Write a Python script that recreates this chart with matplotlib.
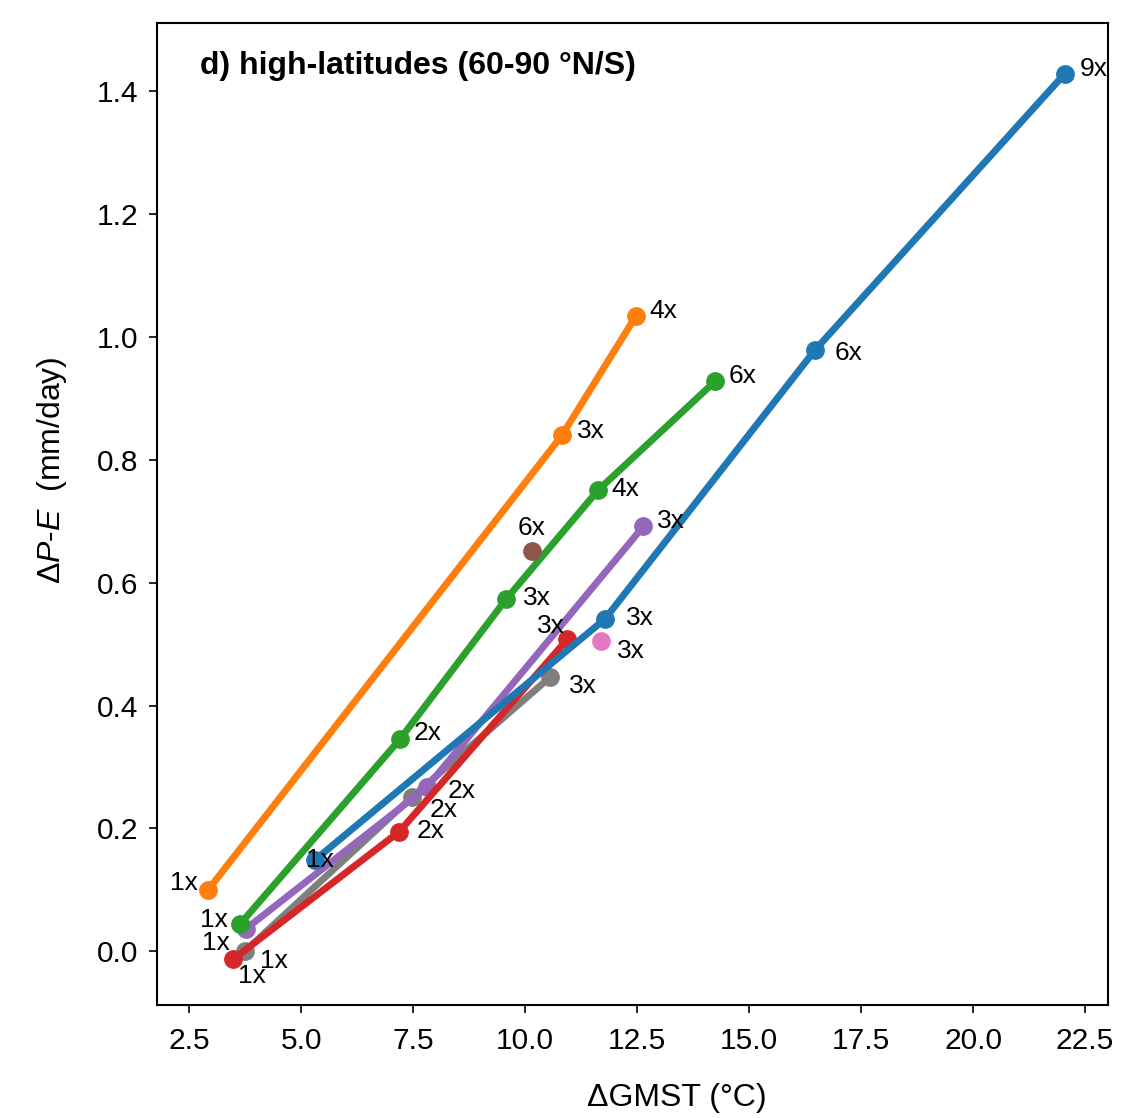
import matplotlib
matplotlib.use("Agg")
import matplotlib.pyplot as plt

plt.rcParams['font.family'] = ['Liberation Sans', 'DejaVu Sans']
plt.rcParams['mathtext.fontset'] = 'custom'
plt.rcParams['mathtext.rm'] = 'Liberation Sans'
plt.rcParams['mathtext.it'] = 'Liberation Sans:italic'

# ---- data (ΔGMST °C, ΔP-E mm/day, CO2 multiple labels) ----
blue_x = [5.31, 11.78, 16.47, 22.05]
blue_y = [0.149, 0.541, 0.979, 1.429]
blue_lab = ["1x", "3x", "6x", "9x"]

orange_x = [2.92, 10.82, 12.47]
orange_y = [0.100, 0.840, 1.034]
orange_lab = ["1x", "3x", "4x"]

green_x = [3.63, 7.20, 9.57, 11.63, 14.24]
green_y = [0.044, 0.345, 0.573, 0.751, 0.928]
green_lab = ["1x", "2x", "3x", "4x", "6x"]

red_x = [3.48, 7.19, 10.94]
red_y = [-0.013, 0.195, 0.508]
red_lab = ["1x", "2x", "3x"]

purple_x = [3.77, 7.80, 12.64]
purple_y = [0.037, 0.267, 0.692]
purple_lab = ["1x", "2x", "3x"]

brown_x = [10.16]
brown_y = [0.652]
brown_lab = ["6x"]

pink_x = [11.70]
pink_y = [0.505]
pink_lab = ["3x"]

gray_x = [3.74, 7.47, 10.55]
gray_y = [0.000, 0.251, 0.446]
gray_lab = ["1x", "2x", "3x"]

# ---- label offsets (pixels: right, up) for text baseline-left ----
blue_off = [(-9, -7), (21, -6), (20, -10), (15, -2)]
orange_off = [(-38, 0), (15, -3), (14, -2)]
green_off = [(-40, -3), (14, -1), (17, -6), (13, -6), (14, -2)]
red_off = [(5, -24), (17, -6), (-30, 6)]
purple_off = [(-44, -21), (21, -11), (14, -2)]
brown_off = [(-15, 16)]
pink_off = [(16, -17)]
gray_off = [(15, -17), (18, -20), (19, -16)]

series = [
    (gray_x, gray_y, gray_lab, gray_off, '#7f7f7f', 2),
    (purple_x, purple_y, purple_lab, purple_off, '#9467bd', 3),
    (red_x, red_y, red_lab, red_off, '#d62728', 4),
    (green_x, green_y, green_lab, green_off, '#2ca02c', 5),
    (blue_x, blue_y, blue_lab, blue_off, '#1f77b4', 6),
    (orange_x, orange_y, orange_lab, orange_off, '#ff7f0e', 7),
    (brown_x, brown_y, brown_lab, brown_off, '#8c564b', 8),
    (pink_x, pink_y, pink_lab, pink_off, '#e377c2', 9),
]

fig = plt.figure(figsize=(11.23, 11.18), dpi=100)
ax = fig.add_axes([0.1395, 0.1011, 0.8474, 0.8786])

for xs, ys, labs, offs, col, z in series:
    ax.plot(xs, ys, '-o', color=col, lw=5, ms=12.5, zorder=z)
    for x, y, l, (dx, dy) in zip(xs, ys, labs, offs):
        ax.annotate(l, (x, y), xytext=(dx, dy), textcoords='offset pixels',
                    ha='left', va='baseline', fontsize=19, zorder=20)

ax.set_xlim(1.77, 23.02)
ax.set_ylim(-0.0874, 1.512)
ax.set_xticks([2.5, 5.0, 7.5, 10.0, 12.5, 15.0, 17.5, 20.0, 22.5])
ax.set_yticks([0.0, 0.2, 0.4, 0.6, 0.8, 1.0, 1.2, 1.4])
ax.tick_params(labelsize=21.5, length=6, width=1.2, direction='out')
ax.tick_params(axis='x', pad=10)
ax.tick_params(axis='y', pad=7.5)
for s in ax.spines.values():
    s.set_linewidth(1.5)

ax.set_xlabel("ΔGMST (°C)", fontsize=23)
ax.xaxis.set_label_coords(0.5468, -0.0947)
ax.xaxis.label.set_va('center')
ax.set_ylabel(r"$\Delta P$-$E$  (mm/day)", fontsize=23)
ax.yaxis.set_label_coords(-0.1095, 0.5446)
ax.yaxis.label.set_va('center')
ax.text(0.0455, 0.956, "d) high-latitudes (60-90 °N/S)", transform=ax.transAxes,
        fontsize=23, fontweight='bold', ha='left', va='center')

fig.savefig("out.png", dpi=100)
